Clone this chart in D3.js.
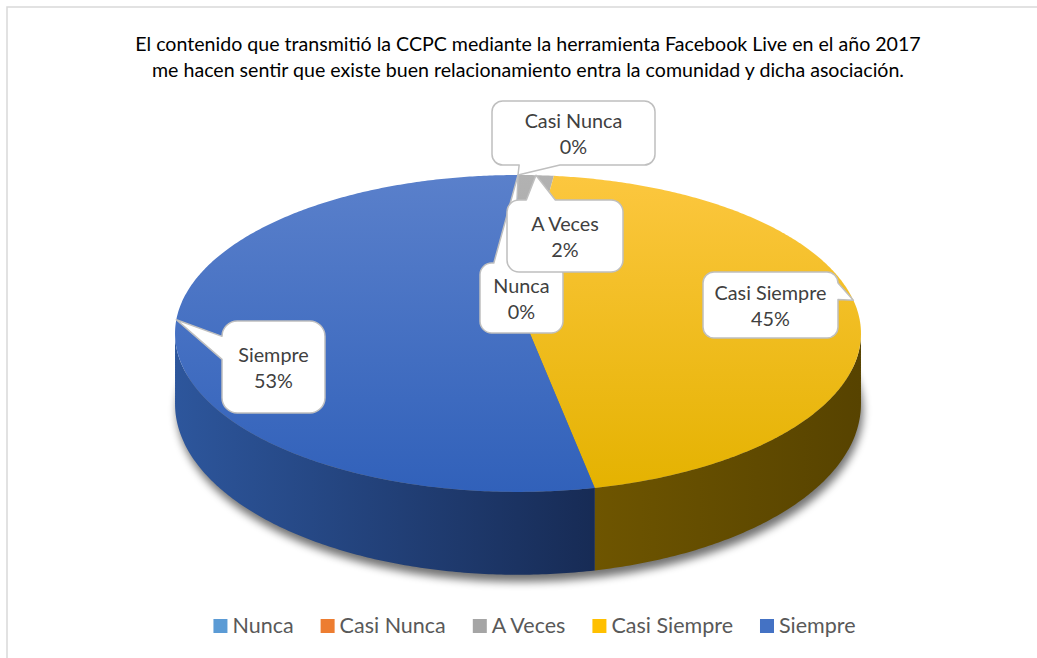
<!DOCTYPE html>
<html>
<head>
<meta charset="utf-8">
<script src="https://cdn.jsdelivr.net/npm/d3@7"></script>
<style>
	body { margin: 0; background: #fff; }
	text { font-family: Lato, 'Open Sans', sans-serif; }
</style>
</head>
<body>
<script>

// data
var categories = ['Nunca', 'Casi Nunca', 'A Veces', 'Casi Siempre', 'Siempre'];
var values = [0, 0, 2, 45, 53];
var percentLabels = ['0%', '0%', '2%', '45%', '53%'];
var titleLines = [
	'El contenido que transmitió la CCPC mediante la herramienta Facebook Live en el año 2017',
	'me hacen sentir que existe buen relacionamiento entra la comunidad y dicha asociación.'
];

// styles
var baseColors = ['#5B9BD5', '#ED7D31', '#A5A5A5', '#FFC000', '#4472C4'],
	topLight = ['#6aa6dc', '#f08a45', '#b2b2b2', '#fcc73f', '#5a80cb'],
	topDark = ['#4a8bc7', '#d96a20', '#989898', '#e4b200', '#3161ba'],
	sideLight = ['#2f5f8c', '#8a4515', '#5a5a5a', '#6e5500', '#2d569c'],
	sideDark = ['#1f4466', '#6a320d', '#444444', '#574300', '#172b55'];

// label boxes (placed by hand in the original)
var boxes = [
	{x: 480, y: 263, w: 83, h: 70},
	{x: 492, y: 101, w: 163, h: 64},
	{x: 507, y: 200, w: 116, h: 72},
	{x: 703, y: 272, w: 135, h: 66},
	{x: 222, y: 321, w: 103, h: 92}
];

var width = 1037, height = 658;

// pie geometry, slight perspective like the excel 3d pie
var R = 337.4, D = R / 0.1795, tilt = 0.4545, cx = 518, cy = 305, depth = 68;

function proj(a, h) {
	var X = R * Math.sin(a), Z = R * Math.cos(a), k = D / (D + Z);
	return [cx + X * k, cy - Z * tilt * k + h * k];
}

function arcPts(a0, a1, h) {
	var n = Math.max(2, Math.ceil(Math.abs(a1 - a0) / 0.01));
	return d3.range(n + 1).map(function(i) { return proj(a0 + (a1 - a0) * i / n, h); });
}

var line = d3.line();

var svg = d3.select('body').append('svg')
	.attr('width', width)
	.attr('height', height);

var defs = svg.append('defs');

defs.append('filter').attr('id', 'blur')
	.attr('x', '-10%').attr('y', '-10%').attr('width', '120%').attr('height', '130%')
	.append('feGaussianBlur').attr('stdDeviation', 4);

svg.append('rect')
	.attr('width', width).attr('height', height)
	.attr('fill', '#fff');

svg.append('rect')
	.attr('x', 7).attr('y', 7)
	.attr('width', width + 20).attr('height', height + 20)
	.attr('fill', 'none')
	.attr('stroke', '#d9d9d9')
	.attr('stroke-width', 1.5);

// title
svg.append('g').selectAll('text')
	.data(titleLines)
	.enter().append('text')
	.attr('x', 528)
	.attr('y', function(d, i) { return 51 + i * 26; })
	.attr('text-anchor', 'middle')
	.attr('font-size', '19.6px')
	.attr('fill', '#000')
	.text(function(d) { return d; });

var pie = d3.pie().sort(null).value(function(d) { return d; });
var arcs = pie(values);

var yTop = proj(0, 0)[1], yBot = proj(Math.PI, 0)[1];

arcs.forEach(function(d, i) {
	var tg = defs.append('linearGradient').attr('id', 'top' + i)
		.attr('gradientUnits', 'userSpaceOnUse')
		.attr('x1', 0).attr('x2', 0).attr('y1', yTop).attr('y2', yBot);
	tg.append('stop').attr('offset', 0).attr('stop-color', topLight[i]);
	tg.append('stop').attr('offset', 1).attr('stop-color', topDark[i]);
});

var g = svg.append('g');

// shadow under the pie
var outline = arcPts(0, 2 * Math.PI, depth);
g.append('path')
	.attr('d', line(outline) + 'Z')
	.attr('transform', 'translate(2,7)')
	.attr('fill', '#000')
	.attr('opacity', 0.55)
	.attr('filter', 'url(#blur)');

// side walls, only the front part is visible
var sVis0 = Math.acos(-0.1795), sVis1 = 2 * Math.PI - sVis0;

arcs.forEach(function(d, i) {
	var b0 = Math.max(d.startAngle, sVis0), b1 = Math.min(d.endAngle, sVis1);
	if (b1 <= b0) return;
	var x0 = proj(b0, 0)[0], x1 = proj(b1, 0)[0];
	var sg = defs.append('linearGradient').attr('id', 'side' + i)
		.attr('gradientUnits', 'userSpaceOnUse')
		.attr('x1', Math.min(x0, x1)).attr('x2', Math.max(x0, x1)).attr('y1', 0).attr('y2', 0);
	sg.append('stop').attr('offset', 0).attr('stop-color', sideLight[i]);
	sg.append('stop').attr('offset', 1).attr('stop-color', sideDark[i]);

	var pts = arcPts(b0, b1, 0).concat(arcPts(b1, b0, depth));
	g.append('path')
		.attr('d', line(pts) + 'Z')
		.attr('fill', 'url(#side' + i + ')');
});

// top faces
arcs.forEach(function(d, i) {
	if (d.endAngle - d.startAngle <= 0) return;
	var pts = [[cx, cy]].concat(arcPts(d.startAngle, d.endAngle, 0));
	g.append('path')
		.attr('d', line(pts) + 'Z')
		.attr('fill', 'url(#top' + i + ')');
});

// callout shape, same rules as excel's wedgeRoundRectCallout
function callout(b, tip) {
	var l = b.x, t = b.y, r = b.x + b.w, bt = b.y + b.h,
		rad = Math.min(b.w, b.h) * 0.16667;
	var dx = tip[0] - (l + b.w / 2), dy = tip[1] - (t + b.h / 2);
	var dz = Math.abs(dy) - Math.abs(dx * b.h / b.w);
	var side, a, c;
	if (dz > 0) {
		side = dy < 0 ? 'top' : 'bottom';
		a = l + b.w * (dx > 0 ? 7 : 2) / 12;
		c = l + b.w * (dx > 0 ? 10 : 5) / 12;
	} else {
		side = dx < 0 ? 'left' : 'right';
		a = t + b.h * (dy > 0 ? 7 : 2) / 12;
		c = t + b.h * (dy > 0 ? 10 : 5) / 12;
	}
	var tp = tip[0] + ',' + tip[1];
	var p = 'M' + l + ',' + (t + rad) + 'A' + rad + ',' + rad + ' 0 0 1 ' + (l + rad) + ',' + t;
	if (side === 'top') p += 'L' + a + ',' + t + 'L' + tp + 'L' + c + ',' + t;
	p += 'L' + (r - rad) + ',' + t + 'A' + rad + ',' + rad + ' 0 0 1 ' + r + ',' + (t + rad);
	if (side === 'right') p += 'L' + r + ',' + a + 'L' + tp + 'L' + r + ',' + c;
	p += 'L' + r + ',' + (bt - rad) + 'A' + rad + ',' + rad + ' 0 0 1 ' + (r - rad) + ',' + bt;
	if (side === 'bottom') p += 'L' + c + ',' + bt + 'L' + tp + 'L' + a + ',' + bt;
	p += 'L' + (l + rad) + ',' + bt + 'A' + rad + ',' + rad + ' 0 0 1 ' + l + ',' + (bt - rad);
	if (side === 'left') p += 'L' + l + ',' + c + 'L' + tp + 'L' + l + ',' + a;
	return p + 'Z';
}

var labels = svg.append('g');

arcs.forEach(function(d, i) {
	var tip = proj((d.startAngle + d.endAngle) / 2, 0),
		b = boxes[i],
		mid = b.y + b.h / 2;
	var lg = labels.append('g');
	lg.append('path')
		.attr('d', callout(b, tip))
		.attr('fill', '#fff')
		.attr('stroke', '#bfbfbf')
		.attr('stroke-width', 1.5)
		.attr('stroke-linejoin', 'round');
	lg.append('text')
		.attr('x', b.x + b.w / 2).attr('y', mid - 5)
		.attr('text-anchor', 'middle')
		.attr('font-size', '19.8px')
		.attr('fill', '#404040')
		.text(categories[i]);
	lg.append('text')
		.attr('x', b.x + b.w / 2).attr('y', mid + 21)
		.attr('text-anchor', 'middle')
		.attr('font-size', '19.8px')
		.attr('fill', '#404040')
		.text(percentLabels[i]);
});

// legend at the bottom
var legend = svg.append('g');
var xPos = 0;
categories.forEach(function(c, i) {
	var item = legend.append('g').attr('transform', 'translate(' + xPos + ',0)');
	item.append('rect')
		.attr('x', 0).attr('y', 619)
		.attr('width', 14).attr('height', 14)
		.attr('fill', baseColors[i]);
	var txt = item.append('text')
		.attr('x', 19).attr('y', 633)
		.attr('font-size', '21.5px')
		.attr('fill', '#595959')
		.text(c);
	xPos += 19 + txt.node().getComputedTextLength() + 27;
});
var legendWidth = xPos - 27;
legend.attr('transform', 'translate(' + (534.5 - legendWidth / 2) + ',0)');

</script>
</body>
</html>
